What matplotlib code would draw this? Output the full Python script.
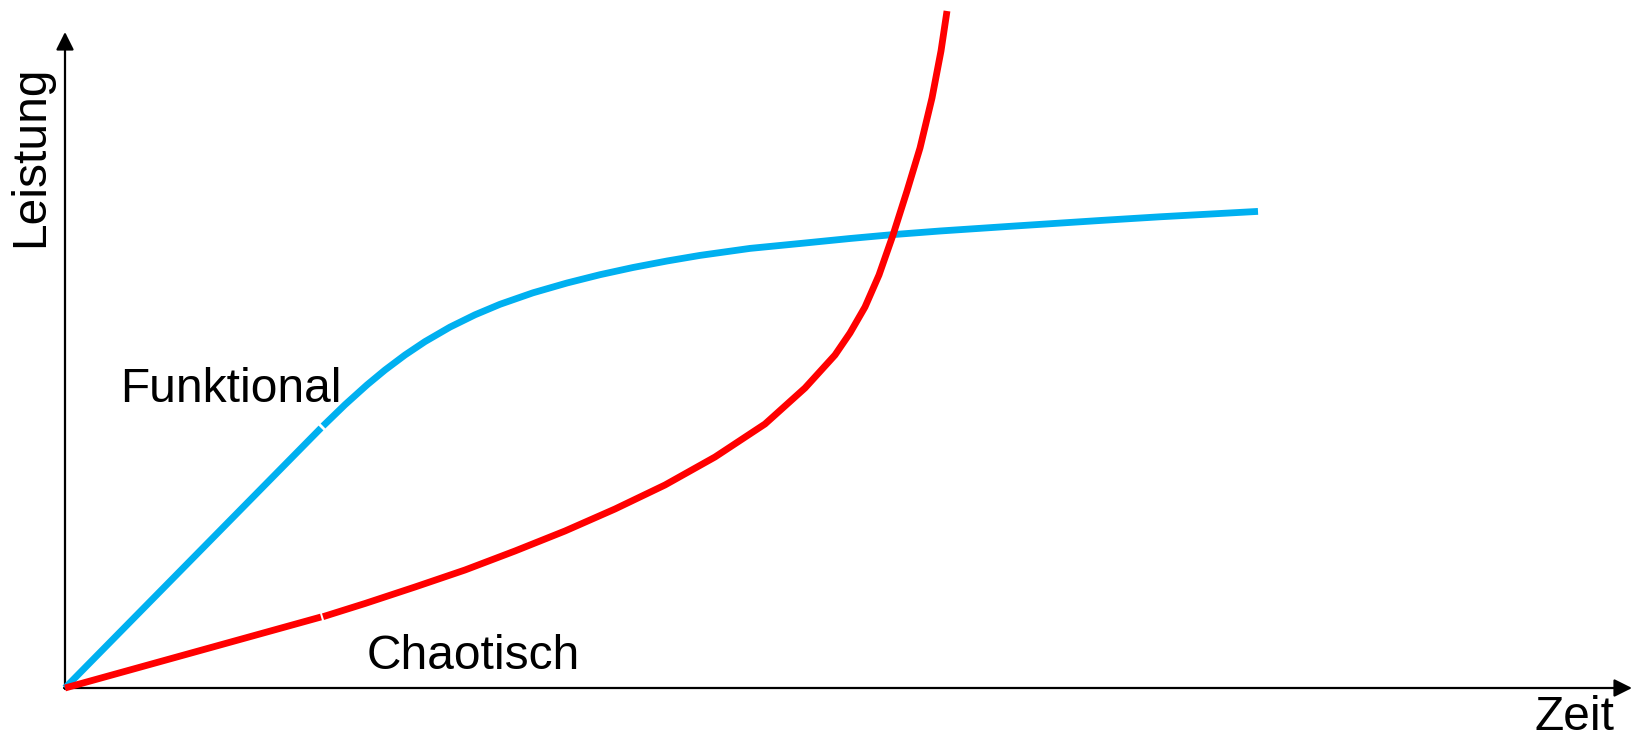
import matplotlib
matplotlib.use("Agg")
import matplotlib.pyplot as plt

plt.rcParams['font.family'] = ['Liberation Sans', 'DejaVu Sans']

# Data: time (t) and performance (p), measured from the origin of the axes
funk_lin_t = [0, 256]
funk_lin_p = [0, 260]
funk_t = [258, 280, 302, 320, 340, 360, 385, 410, 435, 468, 502, 535, 568,
          602, 635, 685, 735, 785, 828, 875, 950, 1035, 1095, 1193]
funk_p = [262, 283.3, 303.1, 318, 333, 346.4, 360.9, 373.2, 383.7, 395.2, 405,
          413.3, 420.5, 427, 432.6, 439.6, 444.5, 449.5, 453.4, 457, 462,
          467.5, 471.2, 476.6]

chao_lin_t = [0, 256]
chao_lin_p = [0, 71]
chao_t = [258, 300, 350, 400, 450, 500, 550, 600, 650, 700, 740, 770, 785,
          800, 814, 828, 842, 855, 867, 876, 882]
chao_p = [71.3, 84.5, 101, 118, 137, 157, 179, 203, 231, 264, 300, 333, 355,
          381, 413, 453, 497, 540, 590, 637, 677]

W, H = 1637, 741
ox, oy = 65, 688

fig = plt.figure(figsize=(16.37, 7.41), dpi=100)
ax = fig.add_axes([0, 0, 1, 1])
ax.set_xlim(-ox, W - ox)
ax.set_ylim(-(H - oy), oy)
ax.axis('off')

blue = '#00B0F0'
red = '#FF0000'
lw = 4.9

ax.plot(funk_lin_t, funk_lin_p, color=blue, lw=lw, solid_capstyle='butt', zorder=3)
ax.plot(funk_t, funk_p, color=blue, lw=lw, solid_capstyle='butt',
        solid_joinstyle='round', zorder=3)
ax.plot(chao_lin_t, chao_lin_p, color=red, lw=lw, solid_capstyle='butt', zorder=4)
ax.plot(chao_t, chao_p, color=red, lw=lw, solid_capstyle='butt',
        solid_joinstyle='round', zorder=4)

# Axes arrows
astyle = '-|>,head_length=0.4,head_width=0.2'
ax.annotate('', xy=(0, 656), xytext=(0, -1),
            arrowprops=dict(arrowstyle=astyle, color='black', lw=1.6, mutation_scale=27,
                            shrinkA=0, shrinkB=0), zorder=2)
ax.annotate('', xy=(1567, 0), xytext=(-1, 0),
            arrowprops=dict(arrowstyle=astyle, color='black', lw=1.6, mutation_scale=27,
                            shrinkA=0, shrinkB=0), zorder=2)

fs = 34.5
ax.text(120 - ox, oy - 402, 'Funktional', fontsize=fs, ha='left', va='baseline')
ax.text(367 - ox, oy - 669, 'Chaotisch', fontsize=fs, ha='left', va='baseline')
ax.text(31 - ox, oy - 156, 'Leistung', fontsize=fs, ha='center', va='center', rotation=90)
ax.text(1615 - ox, oy - 730, 'Zeit', fontsize=fs, ha='right', va='baseline')

fig.savefig('out.png', dpi=100)
